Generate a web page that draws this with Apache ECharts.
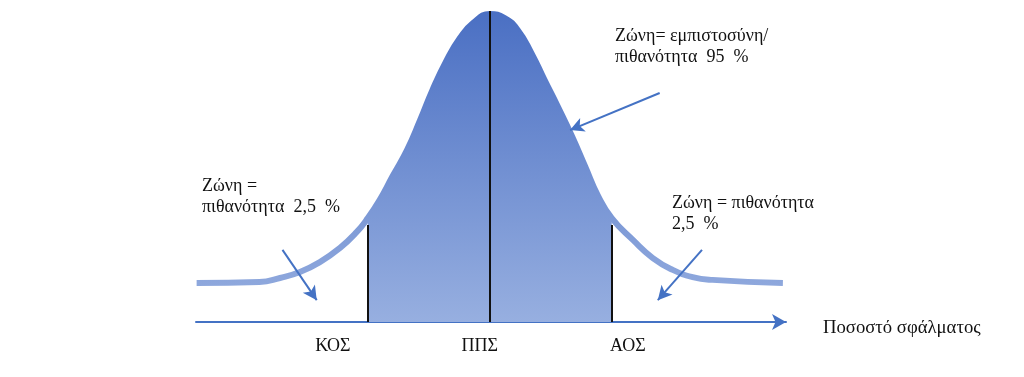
<!DOCTYPE html>
<html>
<head>
    <meta charset="utf-8">
    <title>Κανονική κατανομή - ζώνη εμπιστοσύνης</title>
    <script src="https://cdn.jsdelivr.net/npm/echarts@6/dist/echarts.min.js"></script>
    <style>
        html, body { margin: 0; padding: 0; background: #fff; }
    </style>
</head>
<body>
<div id="main" style="width:1024px;height:377px"></div>
<script type="text/javascript">
    // curve: x in z-units, height as % of the peak
    var zVals = [-4.71, -3.70, -3.37, -3.05, -2.73, -2.41, -2.14, -1.96, -1.77, -1.56, -1.33, -1.12,
                 -0.92, -0.69, -0.48, -0.27, 0, 0.24, 0.45, 0.67, 0.88, 1.09, 1.32, 1.53, 1.74,
                 1.96, 2.30, 2.62, 2.94, 3.26, 3.58, 4.71];
    var heights = [12.5, 12.8, 14.1, 16.0, 19.2, 23.7, 28.8, 33.3, 39.1, 46.8, 55.1, 64.7,
                   74.4, 84.0, 91.0, 95.8, 98.7, 97.4, 93.6, 86.2, 77.6, 69.2, 59.6, 50.0, 40.4,
                   33.3, 26.3, 20.5, 16.7, 14.4, 13.5, 12.5];

    // critical values (lower, mean, upper), tops of their markers, labels under the axis
    var critZ = [-1.96, 0, 1.96];
    var critTop = [31.1, 99.7, 31.1];
    var tickNames = ['ΚΟΣ', 'ΠΠΣ', 'ΑΟΣ'];
    var tickPos = [-2.52, -0.16, 2.22];
    var axisName = 'Ποσοστό σφάλματος';

    // annotation arrows [from, to] in chart units
    var arrows = [
        [[-3.33, 23.1], [-2.78, 7.0]],
        [[3.41, 23.1], [2.70, 7.0]],
        [[2.73, 73.4], [1.29, 61.5]]
    ];
    var notes = [
        'Ζώνη =\nπιθανότητα  2,5  %',
        'Ζώνη= εμπιστοσύνη/\nπιθανότητα  95  %',
        'Ζώνη = πιθανότητα\n2,5  %'
    ];

    var serif = '"Liberation Serif", "DejaVu Serif", serif';
    var blue = '#4472c4';

    var curve = zVals.map(function (z, i) { return [z, heights[i]]; });
    var middle = curve.filter(function (p) { return p[0] >= critZ[0] && p[0] <= critZ[2]; });

    var grad = new echarts.graphic.LinearGradient(0, 10, 0, 322, [
        { offset: 0, color: '#4a6fc3' },
        { offset: 1, color: '#97afe0' }
    ], true);

    var myChart = echarts.init(document.getElementById('main'));
    var option = {
        animation: false,
        grid: { left: 196, right: 238, top: 10, bottom: 55 },
        xAxis: {
            type: 'value',
            min: -4.72,
            max: 4.76,
            splitLine: { show: false },
            axisTick: { show: false },
            axisLine: {
                lineStyle: { color: blue, width: 2 },
                symbol: ['none', 'arrow'],
                symbolSize: [12, 14]
            },
            axisLabel: {
                customValues: tickPos,
                margin: 15,
                color: '#111',
                fontFamily: serif,
                fontSize: 18,
                formatter: function (v) {
                    var i = tickPos.indexOf(v);
                    return i < 0 ? '' : tickNames[i];
                }
            },
            name: axisName,
            nameLocation: 'end',
            nameGap: 37,
            nameTextStyle: {
                color: '#111',
                fontFamily: serif,
                fontSize: 18.7,
                verticalAlign: 'top',
                lineHeight: 12
            }
        },
        yAxis: { type: 'value', min: 0, max: 100, show: false },
        graphic: [
            { type: 'text', left: 202, top: 176, style: { text: notes[0], font: '18px ' + serif, lineHeight: 21, fill: '#111' } },
            { type: 'text', left: 615, top: 26, style: { text: notes[1], font: '18px ' + serif, lineHeight: 21, fill: '#111' } },
            { type: 'text', left: 672, top: 193, style: { text: notes[2], font: '18px ' + serif, lineHeight: 21, fill: '#111' } }
        ],
        series: [{
            name: 'zone95',
            type: 'line',
            data: middle,
            smooth: 0.5,
            symbol: 'none',
            lineStyle: { width: 0 },
            areaStyle: { color: grad, opacity: 1 },
            z: 2,
            markLine: {
                silent: true,
                symbol: 'none',
                label: { show: false },
                lineStyle: { color: '#111', width: 2, type: 'solid' },
                data: critZ.map(function (z, i) {
                    return [{ coord: [z, 0] }, { coord: [z, critTop[i]] }];
                })
            }
        }, {
            name: 'curve',
            type: 'line',
            data: curve,
            smooth: 0.5,
            symbol: 'none',
            lineStyle: { width: 6, color: grad },
            z: 3
        }, {
            name: 'arrows',
            type: 'line',
            data: [],
            z: 4,
            markLine: {
                silent: true,
                symbol: ['none', 'arrow'],
                symbolSize: [11, 14],
                label: { show: false },
                lineStyle: { color: blue, width: 2, type: 'solid' },
                data: arrows.map(function (a) {
                    return [{ coord: a[0] }, { coord: a[1] }];
                })
            }
        }]
    };
    myChart.setOption(option);
</script>
</body>
</html>
